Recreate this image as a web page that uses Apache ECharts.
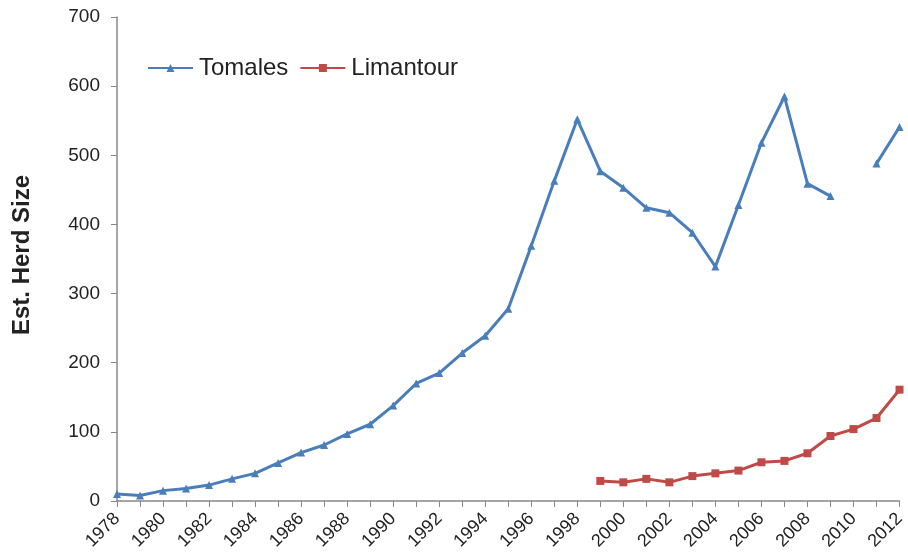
<!DOCTYPE html>
<html><head><meta charset="utf-8">
<script src="https://cdn.jsdelivr.net/npm/echarts@6/dist/echarts.min.js"></script>
<style>html,body{margin:0;padding:0;background:#fff}#c{width:908px;height:558px}</style>
</head><body><div id="c"></div>
<script>
var years = [];
for (var y = 1978; y <= 2012; y++) years.push(String(y));
var tomales = [10,8,15,18,23,32,40,55,70,81,97,111,138,170,185,214,239,278,369,463,552,477,453,424,417,388,339,428,518,585,459,441,null,488,541];
var limantour = [null,null,null,null,null,null,null,null,null,null,null,null,null,null,null,null,null,null,null,null,null,29,27,32,27,36,40,44,56,58,69,94,104,120,161];
var yTicks = [0,100,200,300,400,500,600,700];

var chart = echarts.init(document.getElementById('c'));
var font = 'Liberation Sans, Arial, sans-serif';
chart.setOption({
  animation: false,
  backgroundColor: '#fff',
  grid: {left: 117, top: 17, right: 4, bottom: 57},
  legend: {
    left: 142, top: 51, itemWidth: 45, itemHeight: 10, itemGap: 11,
    textStyle: {fontFamily: font, fontSize: 24, color: '#222', padding: [0, 0, 0, 1]},
    data: ['Tomales', 'Limantour']
  },
  xAxis: {
    type: 'category', data: years, boundaryGap: false,
    axisLine: {lineStyle: {color: '#888', width: 1.5}},
    axisTick: {show: true, interval: 0, length: 6, lineStyle: {color: '#888'}},
    axisLabel: {interval: 1, rotate: 45, fontFamily: font, fontSize: 18, color: '#222', margin: 15}
  },
  yAxis: {
    type: 'value', min: yTicks[0], max: yTicks[yTicks.length-1], interval: 100,
    name: 'Est. Herd Size', nameLocation: 'middle', nameGap: 83,
    nameTextStyle: {fontFamily: font, fontSize: 24, fontWeight: 'bold', color: '#222', padding: [0, 0, 0, 8]},
    axisLine: {show: true, lineStyle: {color: '#888', width: 1.5}},
    axisTick: {show: true, length: 6, lineStyle: {color: '#888'}},
    splitLine: {show: false},
    axisLabel: {fontFamily: font, fontSize: 19, color: '#222', margin: 17}
  },
  series: [
    {name: 'Tomales', type: 'line', data: tomales, connectNulls: false,
     symbol: 'triangle', symbolSize: 8, color: '#4a7ebb',
     lineStyle: {width: 3, color: '#4a7ebb'}, itemStyle: {color: '#4a7ebb'}},
    {name: 'Limantour', type: 'line', data: limantour,
     symbol: 'rect', symbolSize: 8, color: '#be4b48',
     lineStyle: {width: 3, color: '#be4b48'}, itemStyle: {color: '#be4b48'}}
  ]
});
</script></body></html>
